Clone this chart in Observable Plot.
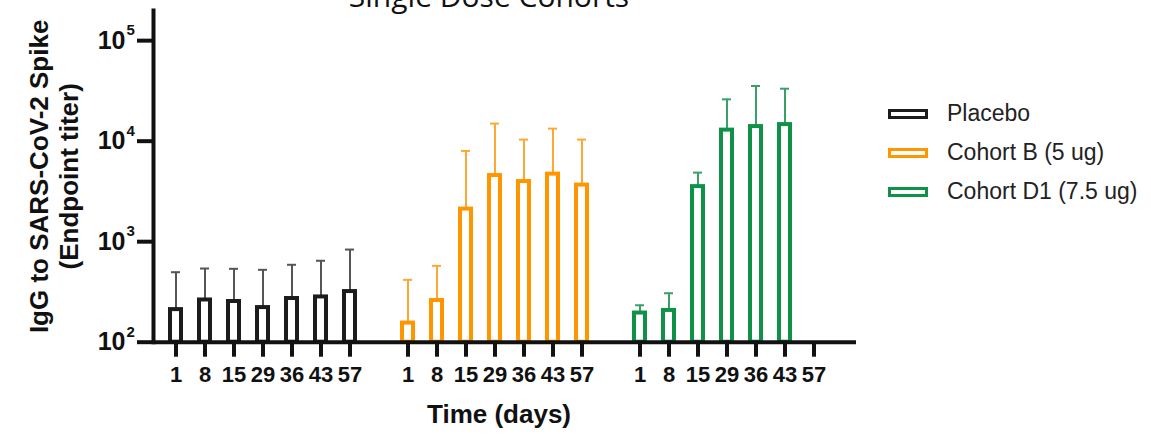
<!DOCTYPE html>
<html><head><meta charset="utf-8">
<script src="https://cdn.jsdelivr.net/npm/d3@7"></script>
<script src="https://cdn.jsdelivr.net/npm/@observablehq/plot@0.6"></script>
<style>
html,body{margin:0;padding:0;background:#fff;}
#wrap{position:relative;width:1151px;height:434px;overflow:hidden;font-family:"Liberation Sans",Arial,sans-serif;}
#chart{position:absolute;left:0;top:0;}
#title{position:absolute;left:239px;width:500px;top:-19px;text-align:center;font-family:"Open Sans",sans-serif;font-size:30px;line-height:30px;color:#111;white-space:nowrap;}
#legend{position:absolute;left:888px;top:94px;}
.item{display:flex;align-items:center;height:39px;font-size:23px;color:#222;white-space:nowrap;}
.sw{box-sizing:border-box;width:40px;height:10px;border:3px solid;margin-right:19px;flex:none;}
</style></head><body>
<div id="wrap"><div id="chart"></div><div id="title">Single Dose Cohorts</div><div id="legend"></div></div>
<script>
// ---- data ----
const days = ["1", "8", "15", "29", "36", "43", "57"];
const cohorts = ["Placebo", "Cohort B (5 ug)", "Cohort D1 (7.5 ug)"];
const placeboTiter = [211, 263, 254, 221, 272, 282, 319];
const placeboUpper = [497, 541, 537, 525, 589, 646, 835];
const cohortBTiter = [155, 260, 2110, 4550, 3965, 4700, 3656];
const cohortBUpper = [417, 575, 8000, 14960, 10370, 13330, 10370];
const cohortD1Titer = [195, 207, 3530, 12880, 13970, 14620, null];
const cohortD1Upper = [233, 307, 4866, 26070, 35400, 33270, null];
const yTicks = [100, 1000, 10000, 100000];
const yTitle = "IgG to SARS-CoV-2 Spike\n(Endpoint titer)";
const xTitle = "Time (days)";
const titleText = "Single Dose Cohorts";

// ---- styling ----
const barColors = ["#1c1c1c", "#ff9600", "#0f9148"];
const errorColors = ["#555555", "#ffa733", "#3aa067"];

const titers = [placeboTiter, cohortBTiter, cohortD1Titer];
const uppers = [placeboUpper, cohortBUpper, cohortD1Upper];
const keyOf = (ci, d) => `${ci}:${d}`;
const xDomain = [];
cohorts.forEach((c, ci) => {
  if (ci > 0) xDomain.push(`gap${ci}`);
  days.forEach(d => xDomain.push(keyOf(ci, d)));
});
const tickKeys = xDomain.filter(k => !k.startsWith("gap"));
const rows = [];
cohorts.forEach((c, ci) => days.forEach((d, di) => {
  const v = titers[ci][di];
  if (v != null) rows.push({cohort: c, ci, key: keyOf(ci, d), day: d, value: v, upper: uppers[ci][di]});
}));

const marks = [];
cohorts.forEach((c, ci) => {
  const data = rows.filter(r => r.ci === ci);
  marks.push(Plot.ruleX(data, {x: "key", y1: "value", y2: "upper", stroke: errorColors[ci], strokeWidth: 2}));
  marks.push(Plot.tickY(data, {x: "key", y: "upper", stroke: errorColors[ci], strokeWidth: 2, insetLeft: 3, insetRight: 3}));
  marks.push(Plot.barY(data, {x: "key", y1: 100, y2: "value", fill: "white", stroke: barColors[ci], strokeWidth: 4, insetLeft: 2, insetRight: 2}));
});

const chart = Plot.plot({
  width: 880, height: 434,
  marginTop: 10, marginBottom: 92.3, marginLeft: 153, marginRight: 24,
  style: {fontFamily: "'Liberation Sans', Arial, sans-serif", color: "#111", background: "white"},
  x: {type: "band", domain: xDomain, paddingInner: 0.5, paddingOuter: 0.54, align: 0.3, axis: null},
  y: {type: "log", domain: [100, Math.pow(10, 5.3)], axis: null},
  marks: [
    ...marks,
    Plot.ruleY([100], {stroke: "#111", strokeWidth: 4}),
    Plot.frame({anchor: "left", stroke: "#111", strokeWidth: 4}),
    Plot.axisY({ticks: yTicks, tickFormat: () => "10", tickSize: 16, tickPadding: 12, fontSize: 25, fontWeight: "bold", stroke: "#111", strokeWidth: 4, label: null}),
    Plot.text(yTicks, {y: d => d, text: d => String(Math.round(Math.log10(d))), frameAnchor: "left", dx: -27, dy: -10, textAnchor: "start", fontSize: 15, fontWeight: "bold", fill: "#111"}),
    Plot.axisX({ticks: tickKeys, tickFormat: k => k.split(":")[1], tickSize: 15, tickPadding: 9, fontSize: 22, fontWeight: "bold", stroke: "#111", strokeWidth: 4, label: null}),
    Plot.text([yTitle], {frameAnchor: "left", rotate: -90, dx: -100, lineHeight: 1.15, fontSize: 26, fontWeight: "bold", textAnchor: "middle", lineAnchor: "middle", fill: "#111"}),
    Plot.text([xTitle], {frameAnchor: "bottom", dx: -6, dy: 72, fontSize: 26, fontWeight: "bold", textAnchor: "middle", lineAnchor: "middle", fill: "#111"})
  ]
});
document.getElementById("chart").appendChild(chart);
document.getElementById("title").textContent = titleText;

const legend = document.getElementById("legend");
cohorts.forEach((c, ci) => {
  const item = document.createElement("div");
  item.className = "item";
  const sw = document.createElement("span");
  sw.className = "sw";
  sw.style.borderColor = barColors[ci];
  const lab = document.createElement("span");
  lab.textContent = c;
  item.appendChild(sw);
  item.appendChild(lab);
  legend.appendChild(item);
});
</script>
</body></html>
